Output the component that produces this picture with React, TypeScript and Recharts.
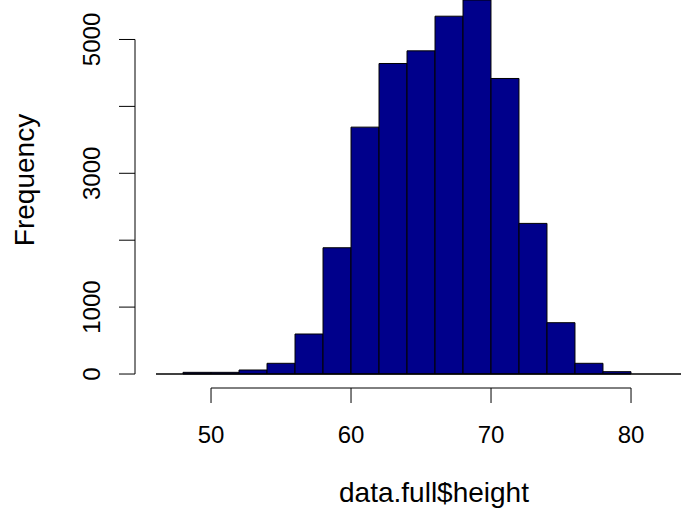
import { Bar, ComposedChart, ReferenceLine, XAxis, YAxis } from "recharts";

// histogram of heights, 2-inch bins
const binStarts = [48, 50, 52, 54, 56, 58, 60, 62, 64, 66, 68, 70, 72, 74, 76, 78];
const counts = [25, 25, 60, 160, 598, 1887, 3690, 4641, 4830, 5348, 5590, 4417, 2251, 767, 160, 35];
const xTicks = [50, 60, 70, 80];
const yTicks = [0, 1000, 2000, 3000, 4000, 5000];
const yLabelled = [0, 1000, 3000, 5000];

const data = binStarts.map((b, i) => ({ mid: b + 1, count: counts[i] }));

const font = "'Liberation Sans', Arial, sans-serif";
const xDomain = [44.57, 83.57];
const yDomain = [-209, 5590];

const YTick = (props: any) => {
  const { y, payload } = props;
  if (!yLabelled.includes(payload.value)) return null;
  return (
    <text
      x={0}
      y={0}
      transform={`translate(100,${y}) rotate(-90)`}
      textAnchor="middle"
      fontSize={24}
      fontFamily={font}
      fill="#000"
    >
      {payload.value}
    </text>
  );
};

export default function App() {
  return (
    <div style={{ position: "absolute", left: 0, top: 0, width: 681, height: 515, background: "#fff" }}>
      <ComposedChart
        width={681}
        height={515}
        data={data}
        barCategoryGap={0}
        barGap={0}
        margin={{ top: 0, right: 0, bottom: 0, left: 0 }}
      >
        <XAxis
          type="number"
          dataKey="mid"
          domain={xDomain}
          allowDataOverflow
          ticks={xTicks}
          height={127}
          axisLine={false}
          tickSize={15}
          tickMargin={23}
          tickLine={{ stroke: "#000" }}
          tick={{ fontSize: 24, fontFamily: font, fill: "#000" }}
          label={() => (
            <text x={434} y={502} textAnchor="middle" fontSize={28} fontFamily={font} fill="#000">
              data.full$height
            </text>
          )}
        />
        <YAxis
          type="number"
          domain={yDomain}
          allowDataOverflow
          ticks={yTicks}
          width={135}
          axisLine={false}
          tickSize={16}
          tickLine={{ stroke: "#000" }}
          tick={<YTick />}
          label={() => (
            <text
              x={0}
              y={0}
              transform="translate(34,180) rotate(-90)"
              textAnchor="middle"
              fontSize={28}
              fontFamily={font}
              fill="#000"
            >
              Frequency
            </text>
          )}
        />
        {/* just under the 28px band so recharts doesn't shrink the bars */}
        <Bar dataKey="count" barSize={27.95} fill="#00008B" stroke="#000" strokeWidth={1} isAnimationActive={false} />
        <ReferenceLine
          segment={[{ x: 46.07, y: 0 }, { x: 83.57, y: 0 }]}
          stroke="#000"
          strokeWidth={1.5}
          ifOverflow="visible"
        />
        <ReferenceLine
          segment={[{ x: xTicks[0], y: yDomain[0] }, { x: xTicks[3], y: yDomain[0] }]}
          stroke="#000"
          strokeWidth={1}
          ifOverflow="visible"
        />
        <ReferenceLine
          segment={[{ x: xDomain[0], y: 0 }, { x: xDomain[0], y: 5000 }]}
          stroke="#000"
          strokeWidth={1}
          ifOverflow="visible"
        />
      </ComposedChart>
    </div>
  );
}
